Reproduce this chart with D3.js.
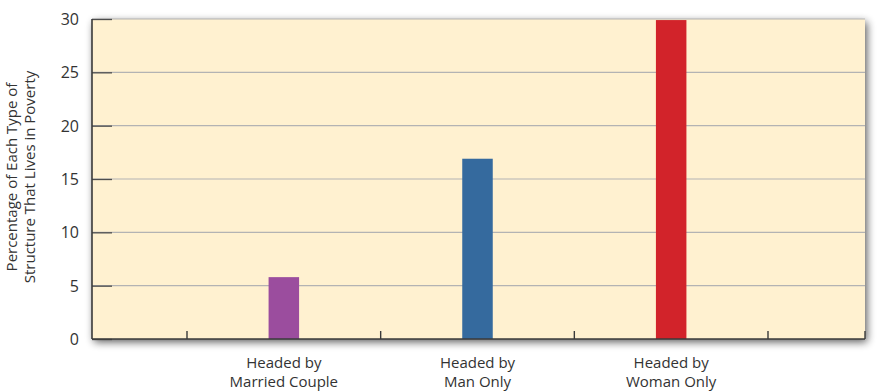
<!DOCTYPE html>
<html><head><meta charset="utf-8">
<script src="https://cdn.jsdelivr.net/npm/d3@7"></script>
<style>body{margin:0;background:#fff}svg{display:block}text{font-family:"Open Sans",Lato,sans-serif;fill:#333}</style>
</head><body>
<svg id="c" width="884" height="391"></svg>
<script>
const categories = ["Headed by\nMarried Couple", "Headed by\nMan Only", "Headed by\nWoman Only"];
const values = [5.8, 16.9, 29.9];
const colors = ["#9b4d9e", "#356a9e", "#d2232a"];
const yTicks = [0, 5, 10, 15, 20, 25, 30];
const yTitle = ["Percentage of Each Type of", "Structure That Lives in Poverty"];

const FONT = "'Open Sans',Lato,sans-serif";
const svg = d3.select("#c");
const L = 92, R = 865, T = 19, B = 339;
const x = d3.scaleBand().domain(categories).range([187, 768]).paddingInner(0).paddingOuter(0);
const y = d3.scaleLinear().domain([0, 30]).range([B, T]);

const defs = svg.append("defs");
const f = defs.append("filter").attr("id","sh").attr("x","-10%").attr("y","-20%").attr("width","120%").attr("height","140%");
f.append("feGaussianBlur").attr("in","SourceAlpha").attr("stdDeviation",4.5).attr("result","b");
f.append("feOffset").attr("in","b").attr("dx",2).attr("dy",3).attr("result","o");
f.append("feComponentTransfer").attr("in","o").attr("result","o2").append("feFuncA").attr("type","linear").attr("slope",0.65);
const m = f.append("feMerge"); m.append("feMergeNode").attr("in","o2"); m.append("feMergeNode").attr("in","SourceGraphic");

svg.append("rect").attr("x",L).attr("y",T).attr("width",R-L).attr("height",B-T).attr("fill","#fff1d0").attr("filter","url(#sh)");

// gridlines
svg.append("g").selectAll("line").data(yTicks.filter(d=>d>0)).join("line")
  .attr("x1",L).attr("x2",R).attr("y1",d=>y(d)).attr("y2",d=>y(d))
  .attr("stroke","#b3b3b3").attr("stroke-width",1.2);

// bars
const bw = 30.5;
svg.append("g").selectAll("rect").data(values).join("rect")
  .attr("x",(d,i)=>x(categories[i])+x.bandwidth()/2-bw/2)
  .attr("width",bw)
  .attr("y",d=>y(d)).attr("height",d=>B-y(d))
  .attr("fill",(d,i)=>colors[i]);

// y axis
const yAxis = d3.axisLeft(y).tickValues(yTicks).tickSize(-20).tickPadding(13).tickFormat(d3.format("d"));
const ya = svg.append("g").attr("transform",`translate(${L},0)`).call(yAxis);
ya.select(".domain").remove();
ya.selectAll(".tick line").attr("stroke","#4d4d4d").attr("stroke-width",1.3);
ya.selectAll(".tick text").attr("font-size",16).attr("font-family",FONT).attr("fill","#333").attr("dy","0.35em");

// x axis
const edges = categories.map(c=>x(c)).concat([x(categories[2])+x.bandwidth(), R]);
svg.append("g").selectAll("line").data(edges).join("line")
  .attr("x1",d=>d).attr("x2",d=>d).attr("y1",B).attr("y2",B-8)
  .attr("stroke","#3a3a3a").attr("stroke-width",1.4);
svg.append("line").attr("x1",L).attr("x2",R).attr("y1",B).attr("y2",B).attr("stroke","#3a3a3a").attr("stroke-width",1.6);
svg.append("line").attr("x1",L).attr("x2",L).attr("y1",T).attr("y2",B).attr("stroke","#3a3a3a").attr("stroke-width",1.6);

const xl = svg.append("g").selectAll("text").data(categories).join("text")
  .attr("text-anchor","middle").attr("font-size",15)
  .attr("transform",d=>`translate(${x(d)+x.bandwidth()/2},368)`);
xl.selectAll("tspan").data(d=>d.split("\n")).join("tspan")
  .attr("x",0).attr("dy",(d,i)=>i?19:0).text(d=>d);

// y title
const yt = svg.append("text").attr("text-anchor","middle").attr("font-size",15)
  .attr("transform","translate(17,177) rotate(-90)");
yt.selectAll("tspan").data(yTitle).join("tspan").attr("x",0).attr("dy",(d,i)=>i?17.5:0).text(d=>d);
</script>
</body></html>
